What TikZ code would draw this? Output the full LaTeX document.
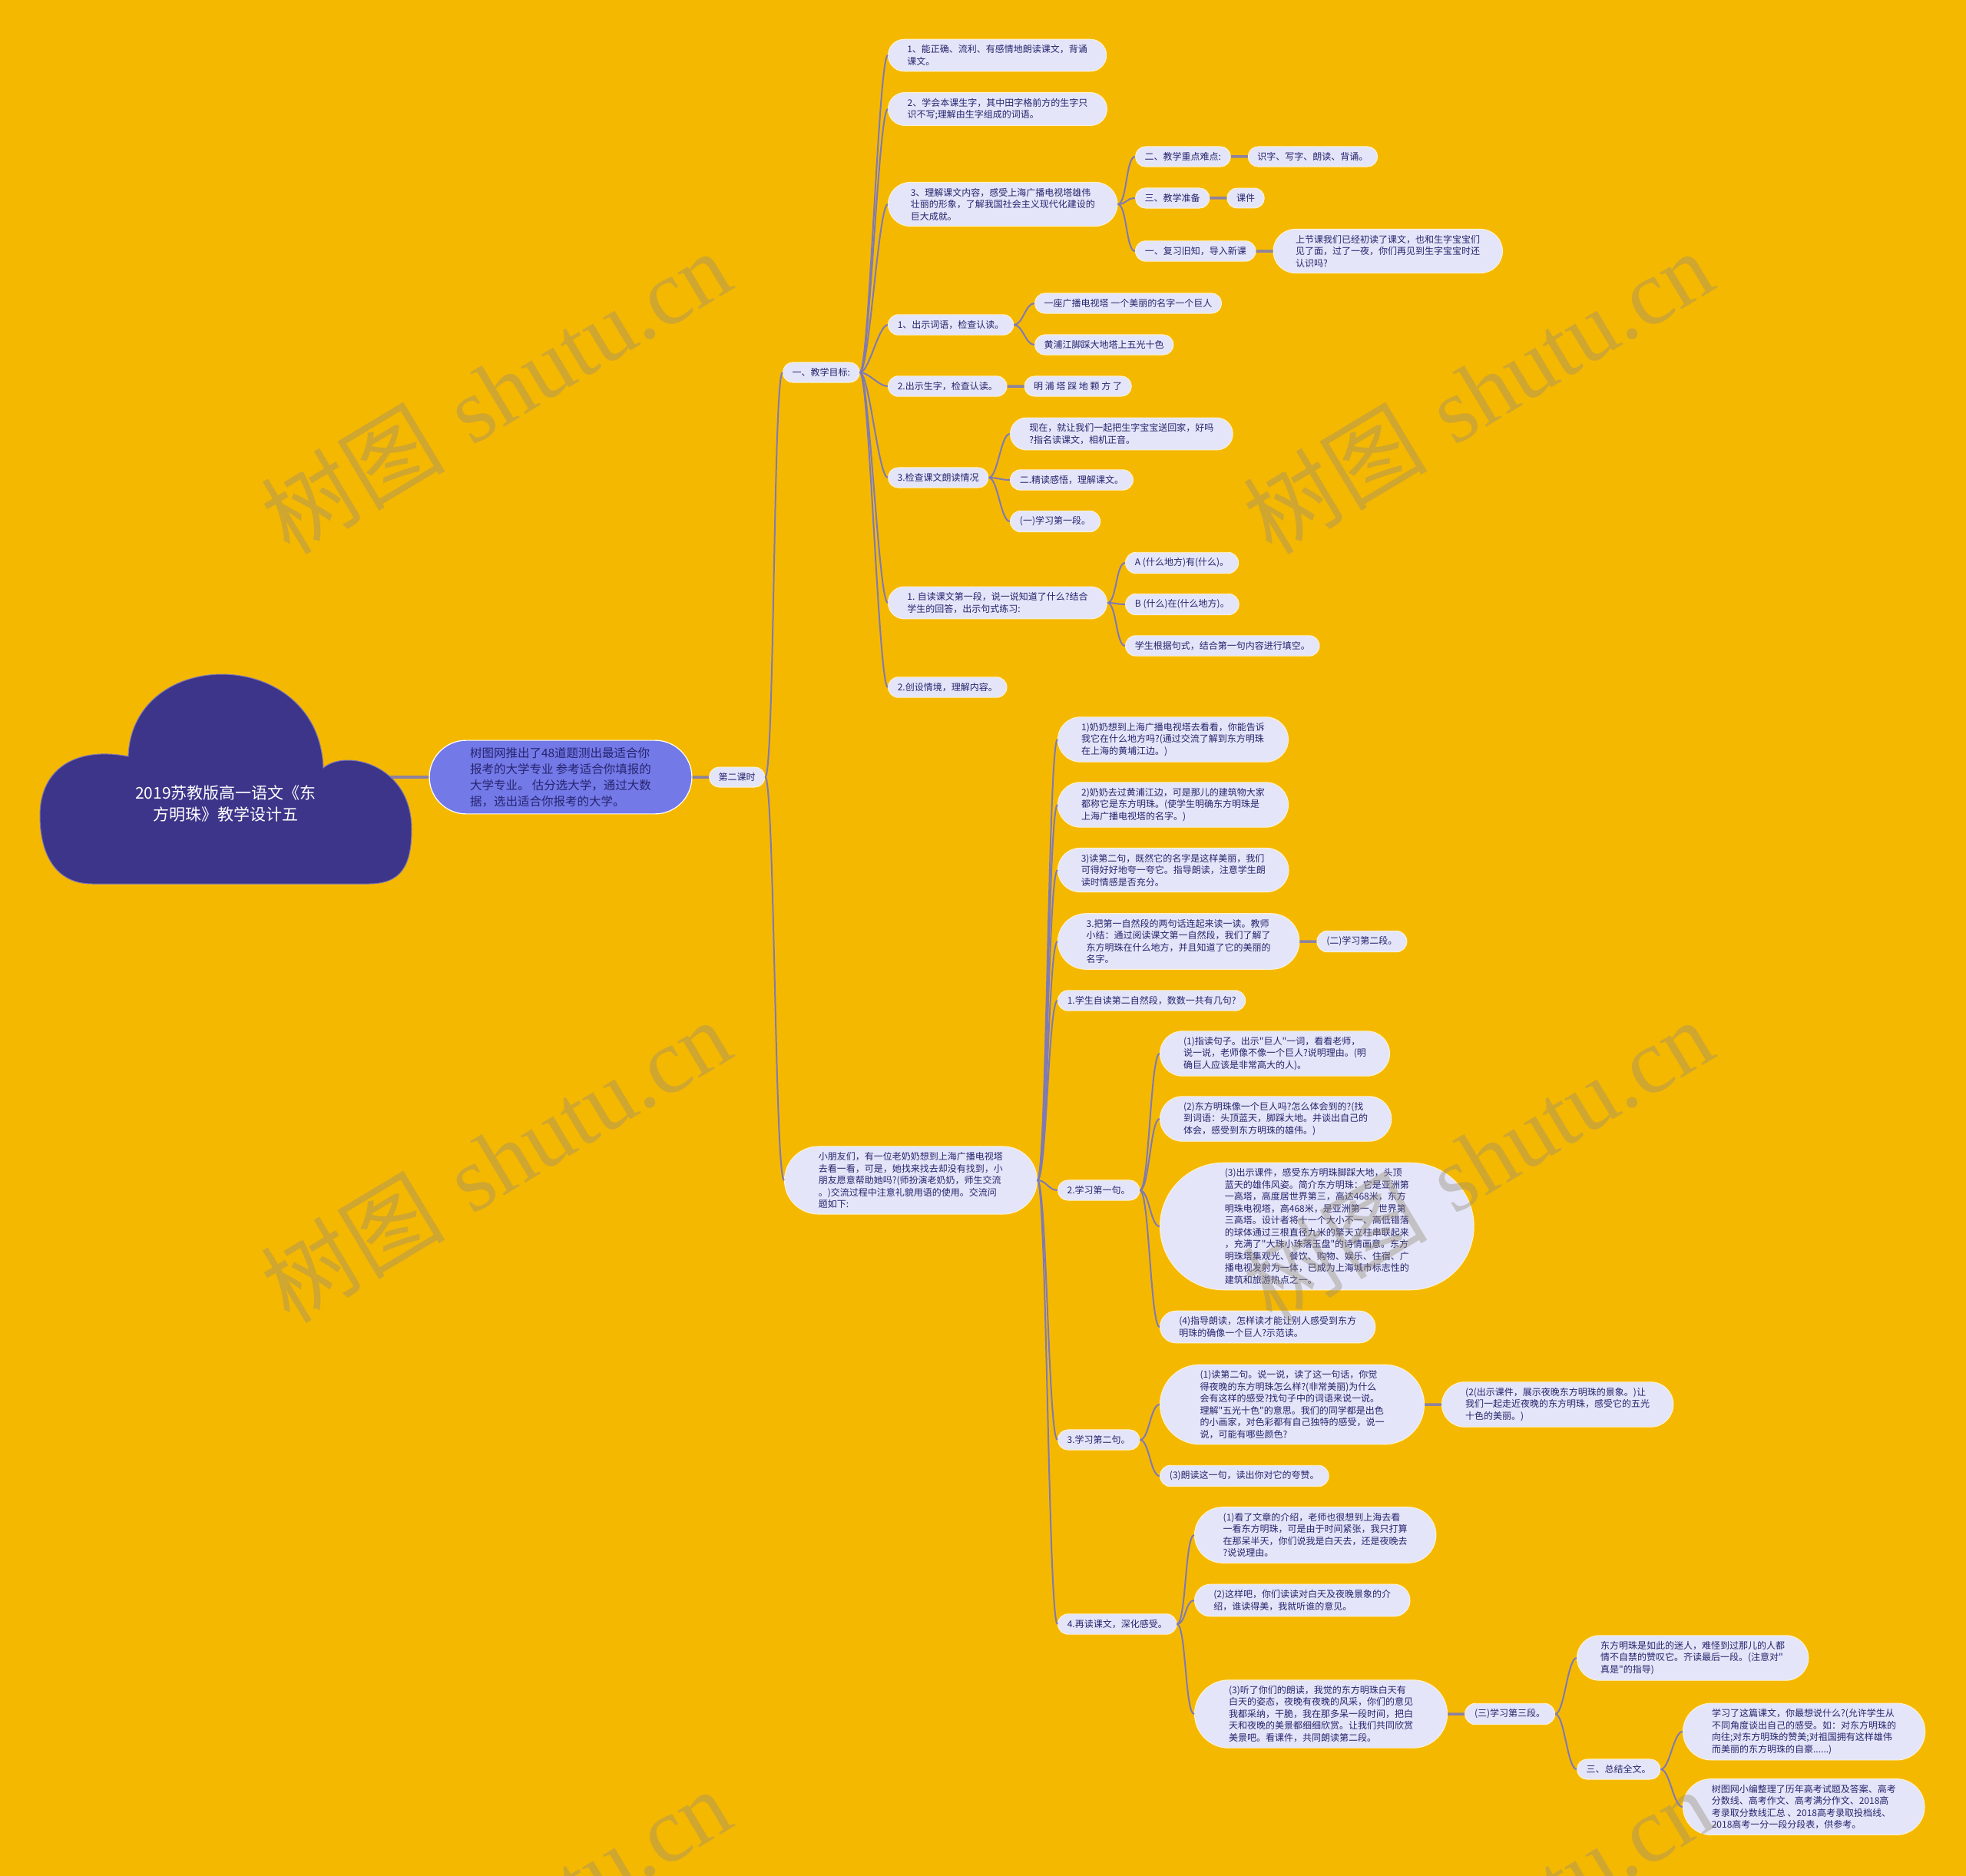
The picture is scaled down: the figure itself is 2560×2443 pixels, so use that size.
\documentclass[tikz,border=0pt]{standalone}
\usepackage{fontspec}
\usetikzlibrary{positioning,shapes.misc}
\newfontfamily\cjk{Noto Sans CJK SC}
\newfontfamily\wmfont{Liberation Serif}
\definecolor{bgc}{RGB}{245,184,0}
\definecolor{nodefill}{RGB}{228,229,248}
\definecolor{nodeedge}{RGB}{255,244,205}
\definecolor{inkc}{RGB}{38,36,110}
\definecolor{linkc}{RGB}{128,122,178}
\definecolor{barc}{RGB}{140,130,160}
\definecolor{cloudc}{RGB}{61,53,137}
\definecolor{adc}{RGB}{116,121,232}
\definecolor{wmc}{RGB}{150,140,120}
\tikzset{
  topic/.style={rounded rectangle, fill=nodefill, draw=nodeedge, line width=0.9pt, text=inkc,
    font=\cjk\fontsize{12}{15.5}\selectfont, align=left, inner xsep=11pt, inner ysep=7.5pt, anchor=west},
  pad/.style={inner xsep=#1},
  link/.style={draw=linkc, line width=2pt, out=0, in=180, distance=12pt},
  bar/.style={draw=barc, line width=3.5pt},
  wm/.style={text=wmc, text opacity=0.4, rotate=31, font=\fontsize{120}{130}\selectfont}
}
\begin{document}
\begin{tikzpicture}[x=1pt, y=-1pt, node distance=22pt]
\fill[bgc] (0,0) rectangle (2560,2443);
\useasboundingbox (0,0) rectangle (2560,2443);

\node[topic, anchor=center, fill=adc, draw=white, line width=1.2pt, font=\cjk\fontsize{15.5}{21}\selectfont, inner ysep=9pt, pad=33pt] (ad) at (730,1012) {树图网推出了48道题测出最适合你\\报考的大学专业 参考适合你填报的\\大学专业。 估分选大学，通过大数\\据，选出适合你报考的大学。};
\coordinate (cloudr) at (490,1012);
\draw[bar] (cloudr) -- (ad.west);

% cloud
\filldraw[fill=cloudc, draw=linkc, line width=1pt] (167,985) .. controls (172,840) and (415,840) .. (421,1000) .. controls (450,975) and (536,995) .. (536,1080) .. controls (536,1128) and (522,1151) .. (480,1151) -- (120,1151) .. controls (72,1151) and (52,1112) .. (52,1062) .. controls (52,1000) and (100,972) .. (167,985) -- cycle;
\node[text=white, font=\cjk\fontsize{21}{28}\selectfont, align=center] (root) at (294,1047) {2019苏教版高一语文《东\\方明珠》教学设计五};

\node[topic] (lesson) at (923,1012) {第二课时};
\node[topic] (goal) at (1019,485) {一、教学目标:};
\node[topic, pad=25pt] (intro) at (1021,1537) {小朋友们，有一位老奶奶想到上海广播电视塔\\去看一看，可是，她找来找去却没有找到，小\\朋友愿意帮助她吗?(师扮演老奶奶，师生交流\\。)交流过程中注意礼貌用语的使用。交流问\\题如下:};

\node[topic, pad=20pt] (g1) at (1156,72) {1、能正确、流利、有感情地朗读课文，背诵\\课文。};
\node[topic, pad=20pt] (g2) at (1156,142) {2、学会本课生字，其中田字格前方的生字只\\识不写;理解由生字组成的词语。};
\node[topic, pad=20pt] (g3) at (1156,266) {3、理解课文内容，感受上海广播电视塔雄伟\\壮丽的形象，了解我国社会主义现代化建设的\\巨大成就。};
\node[topic] (g4) at (1156,423) {1、出示词语，检查认读。};
\node[topic] (g5) at (1156,503) {2.出示生字，检查认读。};
\node[topic] (g6) at (1156,622) {3.检查课文朗读情况};
\node[topic, pad=20pt] (g7) at (1156,785) {1. 自读课文第一段，说一说知道了什么?结合\\学生的回答，出示句式练习:};
\node[topic] (g8) at (1156,895) {2.创设情境，理解内容。};

\node[topic] (g3a) at (1478,204) {二、教学重点难点:};
\node[topic, right=of g3a] (g3a1) {识字、写字、朗读、背诵。};
\node[topic] (g3b) at (1478,258) {三、教学准备};
\node[topic, right=of g3b] (g3b1) {课件};
\node[topic] (g3c) at (1478,327) {一、复习旧知，导入新课};
\node[topic, pad=20pt, right=of g3c] (g3c1) {上节课我们已经初读了课文，也和生字宝宝们\\见了面，过了一夜，你们再见到生字宝宝时还\\认识吗?};

\node[topic] (g4a) at (1347,395) {一座广播电视塔 一个美丽的名字一个巨人};
\node[topic] (g4b) at (1347,449) {黄浦江脚踩大地塔上五光十色};
\node[topic, right=of g5] (g5a) {明 浦 塔 踩 地 颗 方 了};
\node[topic, pad=20pt] (g6a) at (1315,565) {现在，就让我们一起把生字宝宝送回家，好吗\\?指名读课文，相机正音。};
\node[topic] (g6b) at (1315,625) {二.精读感悟，理解课文。};
\node[topic] (g6c) at (1315,679) {(一)学习第一段。};
\node[topic] (g7a) at (1465,733) {A (什么地方)有(什么)。};
\node[topic] (g7b) at (1465,787) {B (什么)在(什么地方)。};
\node[topic] (g7c) at (1465,841) {学生根据句式，结合第一句内容进行填空。};

\node[topic, pad=21pt] (i1) at (1377,963) {1)奶奶想到上海广播电视塔去看看，你能告诉\\我它在什么地方吗?(通过交流了解到东方明珠\\在上海的黄埔江边。)};
\node[topic, pad=21pt] (i2) at (1377,1048) {2)奶奶去过黄浦江边，可是那儿的建筑物大家\\都称它是东方明珠。(使学生明确东方明珠是\\上海广播电视塔的名字。)};
\node[topic, pad=21pt] (i3) at (1377,1133) {3)读第二句，既然它的名字是这样美丽，我们\\可得好好地夸一夸它。指导朗读，注意学生朗\\读时情感是否充分。};
\node[topic, pad=23pt] (i4) at (1377,1226) {3.把第一自然段的两句话连起来读一读。教师\\小结：通过阅读课文第一自然段，我们了解了\\东方明珠在什么地方，并且知道了它的美丽的\\名字。};
\node[topic, right=of i4] (i4a) {(二)学习第二段。};
\node[topic] (i5) at (1377,1303) {1.学生自读第二自然段，数数一共有几句?};
\node[topic] (i6) at (1377,1550) {2.学习第一句。};
\node[topic] (i7) at (1377,1875) {3.学习第二句。};
\node[topic] (i8) at (1377,2115) {4.再读课文，深化感受。};

\node[topic, pad=21pt] (i6a) at (1510,1372) {(1)指读句子。出示"巨人"一词，看看老师，\\说一说，老师像不像一个巨人?说明理由。(明\\确巨人应该是非常高大的人)。};
\node[topic, pad=21pt] (i6b) at (1510,1457) {(2)东方明珠像一个巨人吗?怎么体会到的?(找\\到词语：头顶蓝天，脚踩大地。并谈出自己的\\体会，感受到东方明珠的雄伟。)};
\node[topic, pad=36pt] (i6c) at (1510,1597) {(3)出示课件，感受东方明珠脚踩大地，头顶\\蓝天的雄伟风姿。简介东方明珠：它是亚洲第\\一高塔，高度居世界第三，高达468米，东方\\明珠电视塔，高468米，是亚洲第一、世界第\\三高塔。设计者将十一个大小不一、高低错落\\的球体通过三根直径九米的擎天立柱串联起来\\，充满了"大珠小珠落玉盘"的诗情画意。东方\\明珠塔集观光、餐饮、购物、娱乐、住宿、广\\播电视发射为一体，已成为上海城市标志性的\\建筑和旅游热点之一。};
\node[topic, pad=20pt] (i6d) at (1510,1728) {(4)指导朗读，怎样读才能让别人感受到东方\\明珠的确像一个巨人?示范读。};

\node[topic, pad=27pt] (i7a) at (1510,1829) {(1)读第二句。说一说，读了这一句话，你觉\\得夜晚的东方明珠怎么样?(非常美丽)为什么\\会有这样的感受?找句子中的词语来说一说。\\理解"五光十色"的意思。我们的同学都是出色\\的小画家，对色彩都有自己独特的感受，说一\\说，可能有哪些颜色?};
\node[topic, pad=21pt, right=of i7a] (i7a1) {(2(出示课件，展示夜晚东方明珠的景象。)让\\我们一起走近夜晚的东方明珠，感受它的五光\\十色的美丽。)};
\node[topic] (i7b) at (1510,1922) {(3)朗读这一句，读出你对它的夸赞。};

\node[topic, pad=23pt] (i8a) at (1555,1999) {(1)看了文章的介绍，老师也很想到上海去看\\一看东方明珠，可是由于时间紧张，我只打算\\在那呆半天，你们说我是白天去，还是夜晚去\\?说说理由。};
\node[topic, pad=20pt] (i8b) at (1555,2084) {(2)这样吧，你们读读对白天及夜晚景象的介\\绍，谁读得美，我就听谁的意见。};
\node[topic, pad=25pt] (i8c) at (1555,2232) {(3)听了你们的朗读，我觉的东方明珠白天有\\白天的姿态，夜晚有夜晚的风采，你们的意见\\我都采纳，干脆，我在那多呆一段时间，把白\\天和夜晚的美景都细细欣赏。让我们共同欣赏\\美景吧。看课件，共同朗读第二段。};
\node[topic, right=of i8c] (p3) {(三)学习第三段。};
\node[topic, pad=21pt] (p3a) at (2053,2159) {东方明珠是如此的迷人，难怪到过那儿的人都\\情不自禁的赞叹它。齐读最后一段。(注意对"\\真是"的指导)};
\node[topic] (sum) at (2053,2304) {三、总结全文。};
\node[topic, pad=23pt] (sum1) at (2191,2255) {学习了这篇课文，你最想说什么?(允许学生从\\不同角度谈出自己的感受。如：对东方明珠的\\向往;对东方明珠的赞美;对祖国拥有这样雄伟\\而美丽的东方明珠的自豪......)};
\node[topic, pad=23pt] (sum2) at (2191,2353) {树图网小编整理了历年高考试题及答案、高考\\分数线、高考作文、高考满分作文、2018高\\考录取分数线汇总 、2018高考录取投档线、\\2018高考一分一段分段表，供参考。};

\draw[bar] (ad) -- (lesson);
\draw[link] (lesson.east) to (goal.west);
\draw[link] (lesson.east) to (intro.west);
\draw[link] (goal.east) to (g1.west);
\draw[link] (goal.east) to (g2.west);
\draw[link] (goal.east) to (g3.west);
\draw[link] (goal.east) to (g4.west);
\draw[link] (goal.east) to (g5.west);
\draw[link] (goal.east) to (g6.west);
\draw[link] (goal.east) to (g7.west);
\draw[link] (goal.east) to (g8.west);
\draw[link] (g3.east) to (g3a.west);
\draw[link] (g3.east) to (g3b.west);
\draw[link] (g3.east) to (g3c.west);
\draw[bar] (g3a) -- (g3a1);
\draw[bar] (g3b) -- (g3b1);
\draw[bar] (g3c) -- (g3c1);
\draw[link] (g4.east) to (g4a.west);
\draw[link] (g4.east) to (g4b.west);
\draw[bar] (g5) -- (g5a);
\draw[link] (g6.east) to (g6a.west);
\draw[link] (g6.east) to (g6b.west);
\draw[link] (g6.east) to (g6c.west);
\draw[link] (g7.east) to (g7a.west);
\draw[link] (g7.east) to (g7b.west);
\draw[link] (g7.east) to (g7c.west);
\draw[link] (intro.east) to (i1.west);
\draw[link] (intro.east) to (i2.west);
\draw[link] (intro.east) to (i3.west);
\draw[link] (intro.east) to (i4.west);
\draw[link] (intro.east) to (i5.west);
\draw[link] (intro.east) to (i6.west);
\draw[link] (intro.east) to (i7.west);
\draw[link] (intro.east) to (i8.west);
\draw[bar] (i4) -- (i4a);
\draw[link] (i6.east) to (i6a.west);
\draw[link] (i6.east) to (i6b.west);
\draw[link] (i6.east) to (i6c.west);
\draw[link] (i6.east) to (i6d.west);
\draw[link] (i7.east) to (i7a.west);
\draw[link] (i7.east) to (i7b.west);
\draw[bar] (i7a) -- (i7a1);
\draw[link] (i8.east) to (i8a.west);
\draw[link] (i8.east) to (i8b.west);
\draw[link] (i8.east) to (i8c.west);
\draw[bar] (i8c) -- (p3);
\draw[link] (p3.east) to (p3a.west);
\draw[link] (p3.east) to (sum.west);
\draw[link] (sum.east) to (sum1.west);
\draw[link] (sum.east) to (sum2.west);

\begin{scope}
\clip (0,0) rectangle (2560,2443);
\foreach \wx/\wy in {645/510, 1924/510, 645/1511, 1924/1511, 645/2512, 1924/2512}
  \node[wm, name=wm-\wx-\wy] at (\wx,\wy) {{\cjk 树图} {\wmfont shutu.cn}};
\end{scope}
\end{tikzpicture}
\end{document}
